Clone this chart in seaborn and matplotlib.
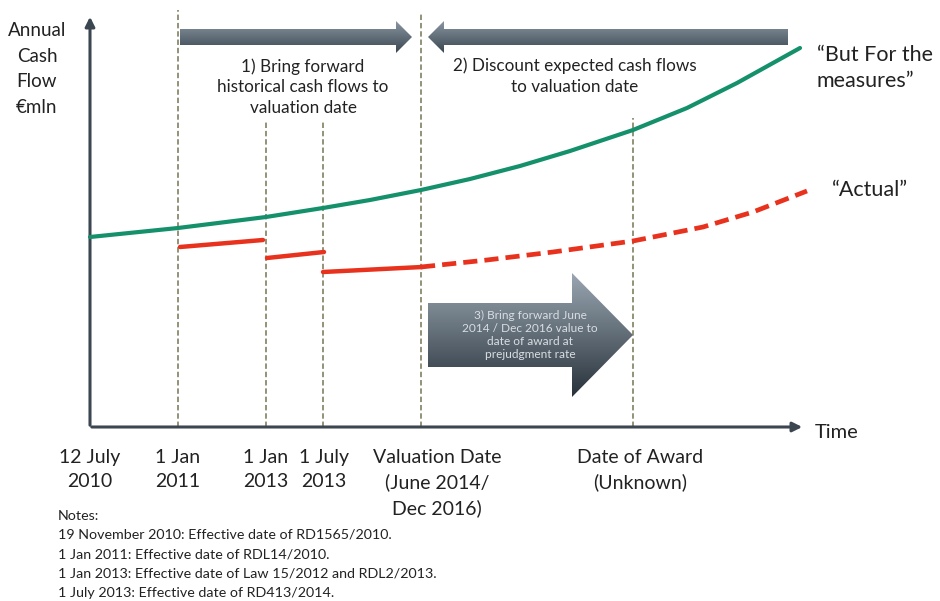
import numpy as np
import pandas as pd
import seaborn as sns
import matplotlib.pyplot as plt
from matplotlib.patches import Polygon
from matplotlib.colors import LinearSegmentedColormap

sns.set_style("white")
plt.rcParams['font.family'] = ['Lato', 'DejaVu Sans']

# schematic timeline positions (y-axis = 12 July 2010)
date_pos = [0, 8.8, 17.6, 23.3, 33.1, 54.3]
date_labels = ["12 July\n2010", "1 Jan\n2011", "1 Jan\n2013", "1 July\n2013",
               "Valuation Date\n(June 2014/\nDec 2016)", "Date of Award\n(Unknown)"]
guide_top = [None, 41.7, 30.5, 30.5, 41.5, 30.9]

# "But For the measures" cash flow
but_for_x = [0, 8.8, 17.6, 23.3, 28, 33.1, 38, 43, 48, 54.3, 59.7, 64.7, 71]
but_for_y = [19.0, 19.9, 21.0, 21.9, 22.7, 23.7, 24.8, 26.1, 27.6, 29.7, 31.9, 34.4, 37.9]

# "Actual" cash flow: historical steps and forecast
hist_x = [[9.0, 17.3], [17.7, 23.4], [23.3, 33.2]]
hist_y = [[18.0, 18.7], [16.9, 17.5], [15.5, 16.0]]
fcst_x = [33.1, 39.7, 46.3, 54.3, 61.3, 66.3, 71.7]
fcst_y = [16.0, 16.7, 17.5, 18.6, 20.0, 21.5, 23.6]

notes = ["Notes:",
         "19 November 2010: Effective date of RD1565/2010.",
         "1 Jan 2011: Effective date of RDL14/2010.",
         "1 Jan 2013: Effective date of Law 15/2012 and RDL2/2013.",
         "1 July 2013: Effective date of RD413/2014."]

fig = plt.figure(figsize=(9.4, 6.01), dpi=100)
ax = fig.add_axes([0, 0, 1, 1])

green = '#14906a'
red = '#e8321e'
axis_col = '#3b4650'
guide_col = '#8a8a6e'

# guide lines
for x, top in zip(date_pos[1:], guide_top[1:]):
    ax.plot([x, x], [0, top], color=guide_col, lw=1.3, ls=(0, (3, 1.6)), zorder=1)

# axes arrows
ax.annotate('', xy=(0, 41.3), xytext=(0, -0.1),
            arrowprops=dict(arrowstyle='-|>', color=axis_col, lw=2.2, mutation_scale=14))
ax.annotate('', xy=(71.5, 0), xytext=(-0.1, 0),
            arrowprops=dict(arrowstyle='-|>', color=axis_col, lw=2.2, mutation_scale=14))

# curves
df_bf = pd.DataFrame({'x': but_for_x, 'y': but_for_y})
sns.lineplot(data=df_bf, x='x', y='y', color=green, lw=3, ax=ax, zorder=3)
for xs, ys in zip(hist_x, hist_y):
    sns.lineplot(x=xs, y=ys, color=red, lw=3.2, ax=ax, zorder=3)
df_fc = pd.DataFrame({'x': fcst_x, 'y': fcst_y})
sns.lineplot(data=df_fc, x='x', y='y', color=red, lw=3.4, ax=ax, zorder=3,
             linestyle=(0, (3, 1.5)))
ax.set_xlim(-9.0, 85.0)
ax.set_ylim(-17.4, 42.7)
ax.axis('off')


def gradient_arrow(pts, c_top, c_bot, z=4):
    poly = Polygon(pts, closed=True, facecolor='none', edgecolor='none', zorder=z)
    ax.add_patch(poly)
    xs = [p[0] for p in pts]
    ys = [p[1] for p in pts]
    cmap = LinearSegmentedColormap.from_list('g', [c_bot, c_top])
    grad = np.linspace(0, 1, 100).reshape(-1, 1)
    im = ax.imshow(grad, cmap=cmap, origin='lower', aspect='auto',
                   extent=[min(xs), max(xs), min(ys), max(ys)], zorder=z)
    im.set_clip_path(poly)


def hbar_arrow(x0, x1, yc, h=0.8, hh=1.6, hl=1.6):
    d = 1 if x1 > x0 else -1
    xb = x1 - d * hl
    pts = [(x0, yc - h), (xb, yc - h), (xb, yc - hh), (x1, yc),
           (xb, yc + hh), (xb, yc + h), (x0, yc + h)]
    gradient_arrow(pts, '#8995a0', '#3a4650')


hbar_arrow(date_pos[1] + 0.2, date_pos[4] - 0.9, 39.0)
hbar_arrow(69.8, date_pos[4] + 0.7, 39.0)

# big arrow 3
tip = date_pos[5]
big = [(33.8, 6.0), (48.2, 6.0), (48.2, 3.0), (tip, 9.2),
       (48.2, 15.4), (48.2, 12.4), (33.8, 12.4)]
gradient_arrow(big, '#9aa7b2', '#28323b')

# texts
ax.text(-5.3, 35.8, "Annual\nCash\nFlow\n€mln", ha='center', va='center',
        fontsize=13.5, linespacing=1.62, color='#222222')
ax.text(72.5, -0.5, "Time", ha='left', va='center', fontsize=14.5, color='#222222')
ax.text(72.7, 35.9, "\u201cBut For the\nmeasures\u201d", ha='left', va='center',
        fontsize=15.5, linespacing=1.4, color='#222222')
ax.text(74.2, 23.7, "\u201cActual\u201d", ha='left', va='center', fontsize=15.5,
        color='#222222')
ax.text(21.3, 34.0, "1) Bring forward\nhistorical cash flows to\nvaluation date",
        ha='center', va='center', fontsize=12.3, linespacing=1.35, color='#222222')
ax.text(48.5, 35.1, "2) Discount expected cash flows\nto valuation date",
        ha='center', va='center', fontsize=12.3, linespacing=1.35, color='#222222')
ax.text(44.0, 9.2, "3) Bring forward June\n2014 / Dec 2016 value to\ndate of award at\nprejudgment rate",
        ha='center', va='center', fontsize=8.6, linespacing=1.25, color='#d8dde2', zorder=5)

label_x = [0, 8.8, 17.6, 23.4, 34.7, 55.0]
for x, lab in zip(label_x, date_labels):
    ax.text(x, -2.2, lab, ha='center', va='top', fontsize=14, linespacing=1.5,
            color='#222222')

for i, line in enumerate(notes):
    ax.text(-3.2, -8.85 - 1.93 * i, line, ha='left', va='center', fontsize=10.3,
            color='#222222')

fig.savefig('out.png', dpi=100)
